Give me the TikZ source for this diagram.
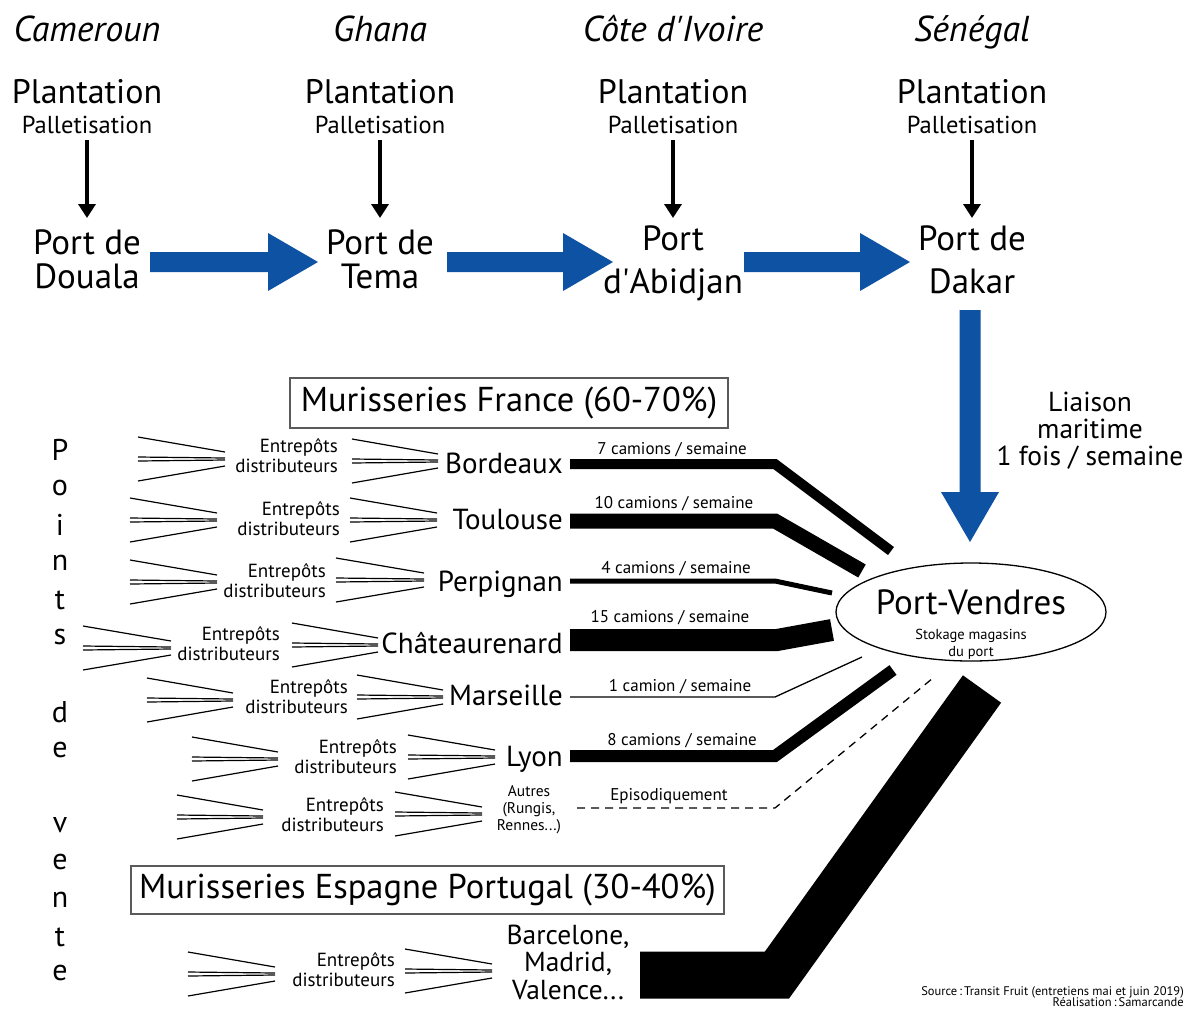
\documentclass[tikz,border=0pt]{standalone}
\usepackage{fontspec}
\setmainfont{PT Sans}
\usetikzlibrary{arrows.meta,shapes.geometric,calc}
\definecolor{flowblue}{RGB}{14,82,164}
\definecolor{boxgray}{RGB}{90,90,90}
\newcommand\fs[1]{\fontsize{#1}{#1}\selectfont}
\newcommand\fanlines[3]{%
  \draw[fanline] (#1,#3-22) -- (#2,#3-7);
  \draw[fanline] (#1,#3-2) -- (#2,#3-1);
  \draw[fanline] (#1,#3+2) -- (#2,#3+1);
  \draw[fanline] (#1,#3+22) -- (#2,#3+7);}
\newcommand\harrow[2]{%
  \fill[flowblue] ($(#1)+(0,-10)$) -- ($(#2)+(-50,-10)$) -- ($(#2)+(-50,-29)$) -- (#2)
    -- ($(#2)+(-50,29)$) -- ($(#2)+(-50,10)$) -- ($(#1)+(0,10)$) -- cycle;}
\begin{document}
\begin{tikzpicture}[x=1pt,y=-1pt,
  txt/.style={inner sep=0pt, anchor=base},
  country/.style={txt, font=\fs{36}\itshape},
  plant/.style={txt, font=\fs{34}},
  pallet/.style={txt, font=\fs{24.5}},
  port/.style={txt, font=\fs{35}},
  smallarrow/.style={line width=4pt, -{Triangle[width=17pt,length=14pt]}},
  fanline/.style={line width=1.2pt},
  city/.style={inner sep=0pt, anchor=base east, font=\fs{29}},
  entre/.style={inner sep=0pt, anchor=east, align=right, font=\fontsize{19}{20}\selectfont},
  rate/.style={txt, font=\fs{17}},
  flow/.style={line cap=butt, line join=miter},
  catbox/.style={draw=boxgray, line width=1.2pt, inner sep=0pt, font=\fs{34.5}},
  letter/.style={inner sep=0pt, font=\fs{30}}]
\useasboundingbox (0,0) rectangle (1188,1010);

% ---------- top row ----------
\node[country] (c1) at (87,41) {Cameroun};
\node[country] (c2) at (380,41) {Ghana};
\node[country] (c3) at (673,41) {Côte d\textquotesingle Ivoire};
\node[country] (c4) at (972,41) {Sénégal};

\foreach \i/\x in {1/87,2/380,3/673,4/972}{
  \node[plant] (pl\i) at (\x,103) {Plantation};
  \node[pallet] (pa\i) at (\x,133) {Palletisation};
  \coordinate (as\i) at (\x,140);
  \coordinate (ae\i) at (\x,218);
  \draw[smallarrow] (as\i) -- (ae\i);
}

\node[port] (p1a) at (87,254) {Port de};
\node[port] (p1b) at (87,288) {Douala};
\node[port] (p2a) at (380,254) {Port de};
\node[port] (p2b) at (380,288) {Tema};
\node[port] (p3a) at (673,250) {Port};
\node[port] (p3b) at (673,293) {d\textquotesingle Abidjan};
\node[port] (p4a) at (972,250) {Port de};
\node[port] (p4b) at (972,293) {Dakar};

\coordinate (h1s) at (150,262); \coordinate (h1e) at (318,262);
\coordinate (h2s) at (447,262); \coordinate (h2e) at (613,262);
\coordinate (h3s) at (744,262); \coordinate (h3e) at (910,262);
\harrow{h1s}{h1e}
\harrow{h2s}{h2e}
\harrow{h3s}{h3e}

\coordinate (v1) at (970,310); \coordinate (v2) at (970,542);
\fill[flowblue] ($(v1)+(-10.5,0)$) -- ($(v2)+(-10.5,-50)$) -- ($(v2)+(-29,-50)$) -- (v2)
  -- ($(v2)+(29,-50)$) -- ($(v2)+(10.5,-50)$) -- ($(v1)+(10.5,0)$) -- cycle;

\node[txt, font=\fs{27.5}] (li1) at (1090,411) {Liaison};
\node[txt, font=\fs{27.5}] (li2) at (1090,438) {maritime};
\node[txt, font=\fs{27.5}] (li3) at (1090,465) {1 fois / semaine};

% ---------- Port-Vendres ----------
\node[draw, ellipse, line width=1.3pt, minimum width=270pt, minimum height=98pt] (pv) at (971,612) {};
\node[txt, font=\fs{35}] (pvt) at (971,614) {Port-Vendres};
\node[txt, font=\fs{14.5}] (pvs1) at (971,639) {Stokage magasins};
\node[txt, font=\fs{14.5}] (pvs2) at (971,656) {du port};

% ---------- category boxes ----------
\node[catbox, minimum width=438pt, minimum height=50pt] (fr) at (509,403) {Murisseries France (60-70\%)};
\node[catbox, minimum width=593pt, minimum height=48pt] (es) at (427.5,890) {Murisseries Espagne Portugal (30-40\%)};

% ---------- Points de vente ----------
\foreach \l/\y [count=\k] in {P/450,o/488,i/525,n/563,t/600,s/637,d/712,e/750,v/825,e/862,n/900,t/937,e/973}{
  \node[letter] (pdv\k) at (60,\y) {\l};
}

% ---------- rows ----------
% Bordeaux
\fanlines{138}{225}{459}
\node[entre] (e1) at (338,456) {Entrepôts\\distributeurs};
\fanlines{352}{438}{461}
\node[city] (bordeaux) at (563,473) {Bordeaux};
% Toulouse
\fanlines{130}{217}{520}
\node[entre] (e2) at (340,519) {Entrepôts\\distributeurs};
\fanlines{350}{437}{520}
\node[city] (toulouse) at (563,529) {Toulouse};
% Perpignan
\fanlines{130}{217}{582}
\node[entre] (e3) at (326,581) {Entrepôts\\distributeurs};
\fanlines{336}{424}{580}
\node[city] (perpignan) at (563,591) {Perpignan};
% Chateaurenard
\fanlines{83}{171}{648}
\node[entre] (e4) at (280,644) {Entrepôts\\distributeurs};
\fanlines{292}{378}{645}
\node[city] (chat) at (563,653) {Châteaurenard};
% Marseille
\fanlines{147}{233}{700}
\node[entre] (e5) at (348,697) {Entrepôts\\distributeurs};
\fanlines{357}{443}{697}
\node[city] (marseille) at (563,705) {Marseille};
% Lyon
\fanlines{192}{278}{759}
\node[entre] (e6) at (397,757) {Entrepôts\\distributeurs};
\fanlines{408}{495}{757}
\node[city] (lyon) at (563,766) {Lyon};
% Autres
\fanlines{177}{263}{817}
\node[entre] (e7) at (384,815) {Entrepôts\\distributeurs};
\fanlines{395}{482}{814}
\node[inner sep=0pt, align=center, font=\fontsize{15.5}{17}\selectfont] (autres) at (529,810) {Autres\\(Rungis,\\Rennes...)};
% Barcelone
\fanlines{188}{275}{974}
\node[entre] (e8) at (395,970) {Entrepôts\\distributeurs};
\fanlines{405}{492}{971}
\node[inner sep=0pt, align=center, font=\fontsize{27.5}{27.5}\selectfont] (barc) at (568,962) {Barcelone,\\Madrid,\\Valence...};

% ---------- flows ----------
\coordinate (b1s) at (570,464); \coordinate (b1k) at (775,464); \coordinate (b1e) at (891,551);
\coordinate (b2s) at (570,521); \coordinate (b2k) at (775,521); \coordinate (b2e) at (862,571);
\coordinate (b3s) at (570,581); \coordinate (b3k) at (775,581); \coordinate (b3e) at (832,593);
\coordinate (b4s) at (570,640); \coordinate (b4k) at (777,640); \coordinate (b4e) at (832,630);
\coordinate (b5s) at (570,697); \coordinate (b5k) at (775,697); \coordinate (b5e) at (862,657);
\coordinate (b6s) at (570,756); \coordinate (b6k) at (775,756); \coordinate (b6e) at (893,670);
\coordinate (b7s) at (577,808); \coordinate (b7k) at (775,808); \coordinate (b7e) at (933,678);
\coordinate (b8s) at (640,975); \coordinate (b8k) at (777,975); \coordinate (b8e) at (982,689);

\draw[flow, line width=10pt] (b1s) -- (b1k) -- (b1e);
\draw[flow, line width=15pt] (b2s) -- (b2k) -- (b2e);
\draw[flow, line width=5pt] (b3s) -- (b3k) -- (b3e);
\draw[flow, line width=22pt] (b4s) -- (b4k) -- (b4e);
\draw[flow, line width=1.3pt] (b5s) -- (b5k) -- (b5e);
\draw[flow, line width=12pt] (b6s) -- (b6k) -- (b6e);
\draw[flow, line width=1.3pt, dash pattern=on 8pt off 6pt] (b7s) -- (b7k) -- (b7e);
\draw[flow, line width=47pt] (b8s) -- (b8k) -- (b8e);

\node[rate] (r1) at (672,454) {7 camions / semaine};
\node[rate] (r2) at (674,508) {10 camions / semaine};
\node[rate] (r3) at (676,573) {4 camions / semaine};
\node[rate] (r4) at (670,622) {15 camions / semaine};
\node[rate] (r5) at (680,691) {1 camion / semaine};
\node[rate] (r6) at (682,745) {8 camions / semaine};
\node[rate] (r7) at (669,800) {Episodiquement};

% ---------- source ----------
\node[inner sep=0pt, anchor=base east, font=\fs{12.5}] (src1) at (1184,995) {Source\,:\,Transit Fruit (entretiens mai et juin 2019)};
\node[inner sep=0pt, anchor=base east, font=\fs{12.5}] (src2) at (1184,1006) {Réalisation\,:\,Samarcande};
\end{tikzpicture}
\end{document}
